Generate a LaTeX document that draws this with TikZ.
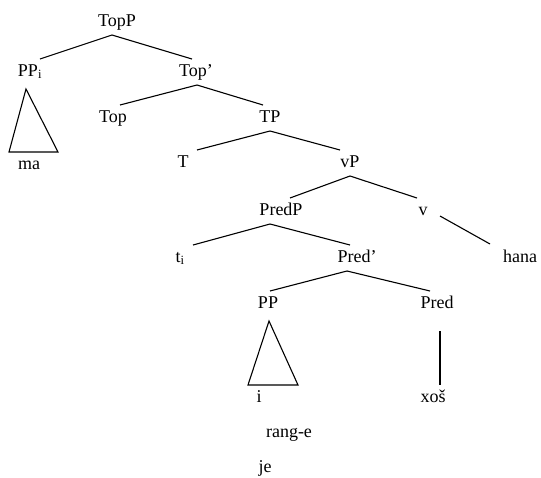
\documentclass[tikz,border=0pt]{standalone}
\usepackage{fontspec}
\setmainfont{Liberation Serif}

\tikzstyle{cat} = [inner sep=2pt, outer sep=3pt, text height=12pt, text depth=4pt, font=\fontsize{18}{21}\selectfont]

\begin{document}
\begin{tikzpicture}[x=1pt, y=-1pt, line width=1.1pt]
  \useasboundingbox (0, 0) rectangle (541, 477);
  \node[cat] (TopP) at (117, 22) {TopP};
  \node[cat] (PPi) at (30, 72) {PP\textsubscript{i}};
  \node[cat] (Topbar) at (196, 72) {Top’};
  \node[cat] (Top) at (113, 118) {Top};
  \node[cat] (TP) at (270, 118) {TP};
  \node[cat] (T) at (183, 163) {T};
  \node[cat] (vP) at (350, 163) {vP};
  \node[cat] (PredP) at (281, 211) {PredP};
  \node[cat] (v) at (423, 211) {v};
  \node[cat] (ti) at (180, 258) {t\textsubscript{i}};
  \node[cat] (Predbar) at (357, 258) {Pred’};
  \node[cat] (hana) at (520, 258) {hana};
  \node[cat] (PP) at (268, 304) {PP};
  \node[cat] (Pred) at (437, 304) {Pred};
  \node[cat] (ma) at (29, 165) {ma};
  \node[cat] (i) at (259, 398) {i};
  \node[cat] (xos) at (433, 398) {xoš};
  \node[cat] (range) at (289, 433) {rang-e};
  \node[cat] (je) at (265, 468) {je};
  % branches
  \foreach \a/\s/\b/\t in {TopP/-5/PPi/10, TopP/-5/Topbar/-4, Topbar/1/Top/7, Topbar/1/TP/-7,
      TP/0/T/14, TP/0/vP/-10, vP/0/PredP/9, vP/0/v/-6, PredP/-11/ti/13, PredP/-11/Predbar/-7,
      Predbar/-10/PP/2, Predbar/-10/Pred/-7} {
    \draw ([xshift=\s pt]\a.south) -- ([xshift=\t pt]\b.north);
  }
  \draw ([shift={(17, 5)}]v.center) -- ([shift={(-30, -14)}]hana.center);
  % triangles
  \draw ([xshift=-4pt, yshift=-4pt]PPi.south) -- ([xshift=-20pt]ma.north) -- ([xshift=29pt]ma.north) -- cycle;
  \draw ([xshift=1pt, yshift=-4pt]PP.south) -- ([xshift=-11pt]i.north) -- ([xshift=39pt]i.north) -- cycle;
  \draw ([xshift=3pt, yshift=-14pt]Pred.south) -- ([xshift=7pt]xos.north);
\end{tikzpicture}
\end{document}
